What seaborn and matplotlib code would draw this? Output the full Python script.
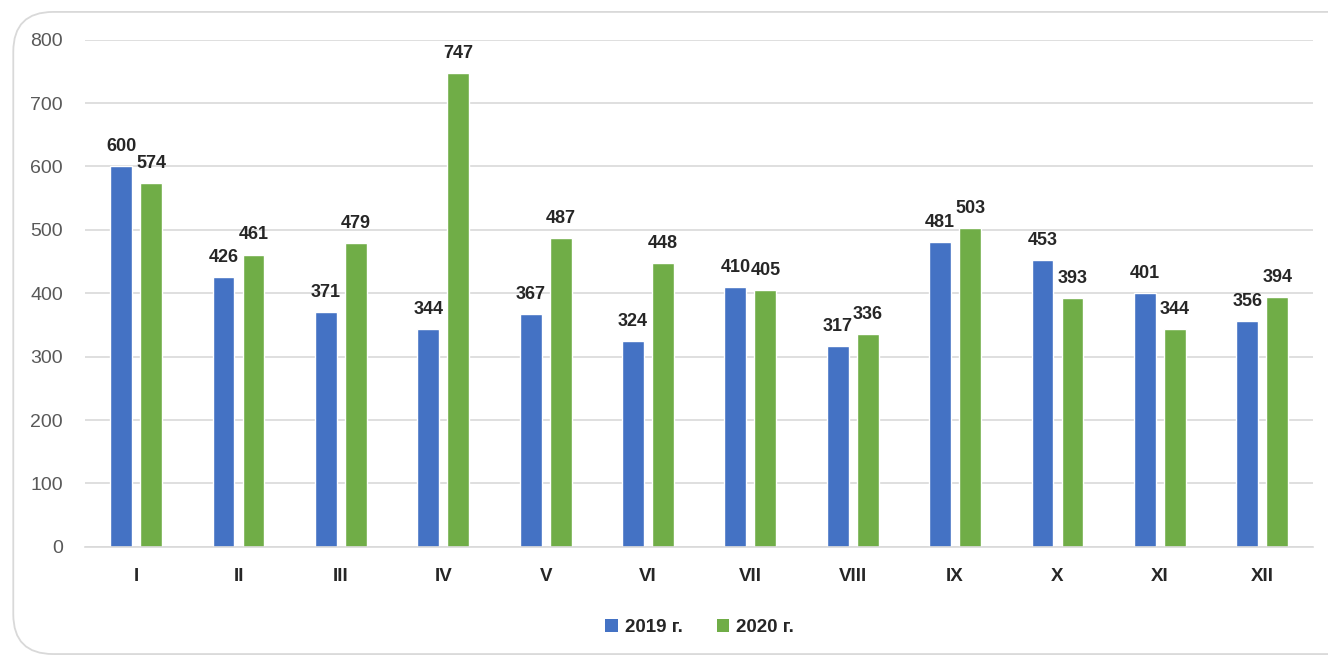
import numpy as np
import pandas as pd
import matplotlib
matplotlib.use("Agg")
import matplotlib.pyplot as plt
from matplotlib.patches import FancyBboxPatch, Patch
import seaborn as sns

months = ["I", "II", "III", "IV", "V", "VI", "VII", "VIII", "IX", "X", "XI", "XII"]
years = ["2019 г.", "2020 г."]
values_2019 = [600, 426, 371, 344, 367, 324, 410, 317, 481, 453, 401, 356]
values_2020 = [574, 461, 479, 747, 487, 448, 405, 336, 503, 393, 344, 394]
colors = ["#4472C4", "#70AD47"]

df = pd.DataFrame({
    "month": months * 2,
    "value": values_2019 + values_2020,
    "year": [years[0]] * 12 + [years[1]] * 12,
})

sns.set_style("white")
plt.rcParams["font.family"] = ["Liberation Sans", "DejaVu Sans"]

fig = plt.figure(figsize=(13.28, 6.62), dpi=100)
ax = fig.add_axes([0.064, 0.174, 0.925, 0.766])

sns.barplot(
    data=df, x="month", y="value", hue="year", order=months,
    palette=colors, width=0.586, gap=0.27, saturation=1,
    ax=ax, legend=False,
)

ax.set_ylim(0, 800)
ax.set_xlim(-0.5, 11.5)
ax.set_yticks(range(0, 801, 100))
ax.grid(axis="y", color="#D9D9D9", linewidth=1.2)
ax.set_axisbelow(True)
for s in ["top", "right", "left"]:
    ax.spines[s].set_visible(False)
ax.spines["bottom"].set_color("#D9D9D9")
ax.spines["bottom"].set_linewidth(1.2)
ax.tick_params(axis="y", length=0, pad=16, labelsize=14, labelcolor="#595959")
ax.tick_params(axis="x", length=0, pad=15)
ax.set_xticks(range(len(months)))
ax.set_xticklabels(months, fontsize=13.5, fontweight="bold")
ax.set_xlabel("")
ax.set_ylabel("")

for cont in ax.containers:
    ax.bar_label(cont, fmt="%d", padding=8, fontsize=13, fontweight="bold")

handles = [Patch(facecolor=c, edgecolor="none") for c in colors]
fig.legend(
    handles, years, loc="center", bbox_to_anchor=(0.527, 0.052), ncol=2,
    frameon=False, prop={"weight": "bold", "size": 13.5},
    handlelength=0.65, handleheight=0.65, handletextpad=0.4, columnspacing=1.8,
)

border = FancyBboxPatch(
    (0.01, 0.012), 1.2, 0.97, boxstyle="round,pad=0,rounding_size=0.03",
    transform=fig.transFigure, facecolor="none", edgecolor="#D9D9D9",
    linewidth=1.3, mutation_aspect=2.0,
)
fig.patches.append(border)

fig.savefig("out.png", dpi=100)
